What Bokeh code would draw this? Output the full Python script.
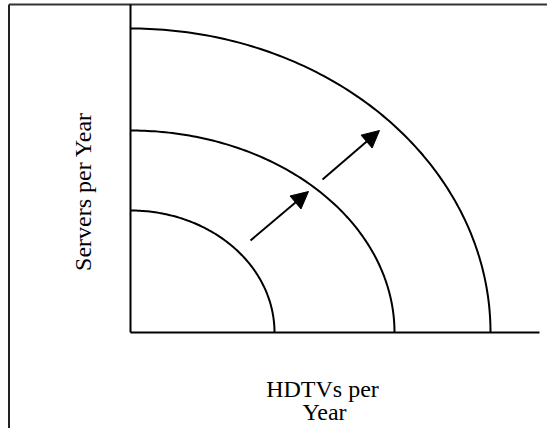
import numpy as np
from bokeh.plotting import figure
from bokeh.models import Range1d, Arrow, NormalHead
from bokeh.core.properties import value
from bokeh.embed import file_html
from bokeh.resources import INLINE

# Production possibilities frontiers (intercepts, in diagram units)
hdtv_max = [144, 264, 360]      # HDTVs per year intercept of each frontier
server_max = [122, 202, 304]    # Servers per year intercept of each frontier

# Outward-shift arrows
arrow_x_start = [120, 192]
arrow_y_start = [92, 153]
arrow_x_end = [178, 249]
arrow_y_end = [141, 202]

x_axis_end = 409
y_axis_end = 328
x_label_lines = ["HDTVs per", "Year"]
y_label = "Servers per Year"

FONT = value("Liberation Serif")

p = figure(width=547, height=428, output_backend="svg", toolbar_location=None,
           x_range=Range1d(-130, 417), y_range=Range1d(-96, 332),
           min_border=0, x_axis_location=None, y_axis_location=None)
p.grid.visible = False
p.outline_line_color = None
p.background_fill_color = "white"
p.border_fill_color = "white"

# outer frame (left and top edges)
p.line(x=[-121.5, -121.5], y=[-96, 328], line_color="#222222", line_width=2)
p.line(x=[-121.5, 417], y=[328, 328], line_color="#333333", line_width=2)

# axes
p.line(x=[0, x_axis_end], y=[0, 0], line_color="black", line_width=2)
p.line(x=[0, 0], y=[0, y_axis_end], line_color="black", line_width=2)

# frontiers (quarter ellipses)
t = np.linspace(0, np.pi / 2, 120)
for a, b in zip(hdtv_max, server_max):
    p.line(x=a * np.cos(t), y=b * np.sin(t), line_color="black", line_width=2)

# arrows
for xs, ys, xe, ye in zip(arrow_x_start, arrow_y_start, arrow_x_end, arrow_y_end):
    p.add_layout(Arrow(end=NormalHead(size=17, fill_color="black", line_color="black"),
                       x_start=xs, y_start=ys, x_end=xe, y_end=ye,
                       line_color="black", line_width=2))

# labels
p.text(x=[192, 194], y=[-56, -79], text=x_label_lines, text_font=FONT,
       text_font_size="24px", text_align="center", text_baseline="alphabetic",
       text_color="black")
p.text(x=[-48], y=[141], text=[y_label], angle=np.pi / 2, text_font=FONT,
       text_font_size="24px", text_align="center", text_baseline="alphabetic",
       text_color="black")

open("out.html", "w").write(file_html(p, INLINE))
